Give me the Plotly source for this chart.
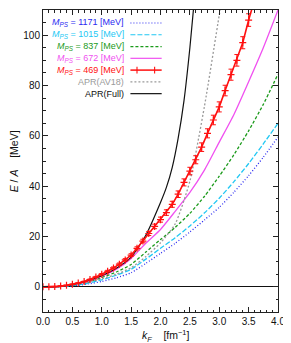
import plotly.graph_objects as go

# ---------------- data ----------------
kf_grid = [0.0, 0.25, 0.5, 0.75, 1.0, 1.25, 1.5, 1.75, 2.0, 2.25, 2.5, 2.75, 3.0, 3.25, 3.5, 3.75, 4.0]
e_1171 = [0.0, 0.1, 0.4, 1.1, 2.1, 3.6, 5.6, 9.3, 13.3, 17.3, 21.8, 26.6, 31.6, 37.6, 44.2, 51.5, 59.5]
e_1015 = [0.0, 0.1, 0.5, 1.4, 2.8, 4.6, 7.0, 11.0, 15.3, 19.5, 24.2, 29.4, 35.2, 41.8, 49.0, 56.8, 65.0]
e_837 = [0.0, 0.1, 0.7, 1.8, 3.7, 5.9, 8.9, 13.8, 18.8, 23.6, 29.2, 36.0, 44.0, 52.5, 62.0, 72.5, 84.5]
e_672 = [0.0, 0.1, 0.8, 2.1, 4.2, 7.0, 11.3, 17.3, 22.8, 30.0, 37.5, 46.5, 57.5, 68.5, 81.5, 95.0, 110.0]

kf_469 = [0.0, 0.1, 0.2, 0.3, 0.4, 0.5, 0.6, 0.7, 0.8, 0.9, 1.0, 1.1, 1.2, 1.3, 1.4, 1.5, 1.6, 1.7, 1.8,
          1.9, 2.0, 2.1, 2.2, 2.3, 2.4, 2.5, 2.6, 2.7, 2.8, 2.9, 3.0, 3.1, 3.2, 3.3, 3.4, 3.5, 3.6]
e_469 = [0.0, 0.0, 0.1, 0.3, 0.6, 1.0, 1.5, 2.1, 2.9, 3.9, 5.0, 6.2, 7.5, 9.0, 10.7, 12.6, 15.3, 18.2, 21.2,
         24.0, 26.7, 29.5, 32.8, 36.8, 41.5, 46.0, 50.5, 55.5, 61.0, 66.3, 71.5, 78.0, 84.3, 90.0, 97.0, 106.0, 114.0]
err_469 = [0.02, 0.02, 0.03, 0.05, 0.07, 0.1, 0.12, 0.15, 0.2, 0.25, 0.3, 0.35, 0.4, 0.45, 0.5, 0.55, 0.6, 0.7, 0.8,
           0.9, 1.0, 1.1, 1.2, 1.3, 1.4, 1.5, 1.6, 1.7, 1.8, 1.9, 2.0, 2.1, 2.2, 2.3, 2.4, 2.5, 2.6]

kf_av18 = [0.0, 0.25, 0.5, 0.75, 1.0, 1.25, 1.5, 1.75, 2.0, 2.25, 2.5, 2.75, 3.0, 3.1]
e_av18 = [0.0, 0.1, 0.8, 1.9, 3.2, 5.0, 7.6, 12.0, 17.5, 25.0, 42.0, 72.0, 108.0, 122.0]

kf_full = [0.0, 0.25, 0.5, 0.75, 1.0, 1.25, 1.5, 1.75, 2.0, 2.1, 2.2, 2.3, 2.4, 2.5, 2.6]
e_full = [0.0, 0.1, 0.9, 2.3, 4.4, 7.4, 11.8, 20.5, 33.5, 39.5, 47.5, 59.0, 74.0, 95.0, 120.0]

x_ticks = [0.0, 0.5, 1.0, 1.5, 2.0, 2.5, 3.0, 3.5, 4.0]
x_tick_labels = ["0.0", "0.5", "1.0", "1.5", "2.0", "2.5", "3.0", "3.5", "4.0"]
y_ticks = [0, 20, 40, 60, 80, 100]

legend_labels = ["<i>M</i><sub><i>PS</i></sub> = 1171 [MeV]",
                 "<i>M</i><sub><i>PS</i></sub> = 1015 [MeV]",
                 "<i>M</i><sub><i>PS</i></sub> = 837 [MeV]",
                 "<i>M</i><sub><i>PS</i></sub> = 672 [MeV]",
                 "<i>M</i><sub><i>PS</i></sub> = 469 [MeV]",
                 "APR(AV18)",
                 "APR(Full)"]

# ---------------- styles ----------------
C_BLUE = "#2a2af0"
C_CYAN = "#22c8f4"
C_GREEN = "#1a9a1a"
C_PINK = "#f050f0"
C_RED = "#ff1010"
C_GRAY = "#9a9a9a"
C_BLACK = "#111111"
FONT = "Liberation Sans, Arial, sans-serif"

fig = go.Figure()

def add_line(x, y, color, dash, width=1.3):
    fig.add_trace(go.Scatter(x=x, y=y, mode="lines", line=dict(color=color, dash=dash, width=width, shape="spline", smoothing=0.6),
                             showlegend=False, hoverinfo="skip"))

add_line(kf_grid, e_1171, C_BLUE, "1px,2px")
add_line(kf_grid, e_1015, C_CYAN, "5px,2px")
add_line(kf_grid, e_837, C_GREEN, "3px,2px")
add_line(kf_grid, e_672, C_PINK, "solid")
add_line(kf_av18, e_av18, C_GRAY, "2px,2px")
add_line(kf_full, e_full, C_BLACK, "solid", 1.2)

fig.add_trace(go.Scatter(
    x=kf_469, y=e_469, mode="lines+markers",
    line=dict(color=C_RED, width=1.6),
    marker=dict(symbol="cross-thin", size=5, line=dict(color=C_RED, width=1.2), color=C_RED),
    error_y=dict(type="data", array=err_469, visible=True, color=C_RED, thickness=1.0, width=2.5),
    showlegend=False, hoverinfo="skip"))

# ---------------- legend (text right-aligned, sample to its right) ----------------
leg_colors = [C_BLUE, C_CYAN, C_GREEN, C_PINK, C_RED, C_GRAY, C_BLACK]
leg_dash = ["1px,2px", "5px,2px", "3px,2px", "solid", "solid", "2px,2px", "solid"]
leg_y = [0.957, 0.918, 0.879, 0.840, 0.801, 0.762, 0.723]
text_right = 0.352
s0, s1 = 0.372, 0.505
for lab, col, dsh, yy in zip(legend_labels, leg_colors, leg_dash, leg_y):
    fig.add_annotation(x=text_right, y=yy, xref="paper", yref="paper", text=lab, showarrow=False,
                       xanchor="right", yanchor="middle", font=dict(family=FONT, size=9, color=col))
    fig.add_shape(type="line", xref="paper", yref="paper", x0=s0, x1=s1, y0=yy, y1=yy,
                  line=dict(color=col, width=1.5 if col == C_RED else 1.2, dash=dsh))
# error-bar ticks in the red legend sample
for xx in (0.40, 0.475):
    fig.add_shape(type="line", xref="paper", yref="paper", x0=xx, x1=xx, y0=leg_y[4] - 0.011, y1=leg_y[4] + 0.011,
                  line=dict(color=C_RED, width=1.1))

axis_common = dict(showline=True, linecolor="#222", linewidth=1, mirror="ticks", ticks="inside",
                   tickcolor="#222", showgrid=False, tickfont=dict(family=FONT, size=10, color="#111"))

# the page body adds an 8px offset, so the figure is sized 8px smaller and margins shifted
fig.update_layout(
    width=283, height=335,
    margin=dict(l=35, r=13, t=2, b=31),
    paper_bgcolor="white", plot_bgcolor="white",
    font=dict(family=FONT, size=10, color="#111"),
    xaxis=dict(range=[0, 4], tickvals=x_ticks, ticktext=x_tick_labels, ticklen=5,
               minor=dict(dtick=0.1, ticklen=2.5, ticks="inside", tickcolor="#222", showgrid=False),
               zeroline=False, **axis_common),
    yaxis=dict(range=[-10, 110], tickvals=y_ticks, ticklen=5,
               minor=dict(dtick=5, ticklen=2.5, ticks="inside", tickcolor="#222", showgrid=False),
               zeroline=True, zerolinecolor="#111", zerolinewidth=1, **axis_common),
    showlegend=False,
)

fig.add_annotation(x=0.52, y=-0.045, xref="paper", yref="paper",
                   text="<i>k</i><sub><i>F</i></sub>    [fm<sup>−1</sup>]", showarrow=False,
                   xanchor="center", yanchor="top", font=dict(family=FONT, size=10.5, color="#111"))
fig.add_annotation(x=-0.122, y=0.5, xref="paper", yref="paper",
                   text="<i>E</i> / <i>A</i>    [MeV]", showarrow=False, textangle=-90,
                   xanchor="center", yanchor="middle", font=dict(family=FONT, size=10.5, color="#111"))

fig.write_html("out.html")
